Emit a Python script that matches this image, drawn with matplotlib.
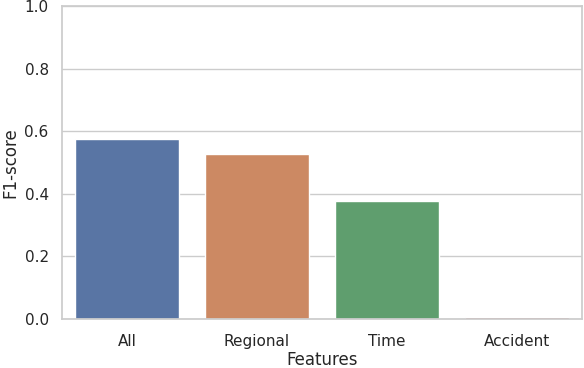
import numpy as np
import matplotlib
matplotlib.use("Agg")
import matplotlib.pyplot as plt
import seaborn as sns

features = ["All", "Regional", "Time", "Accident"]
f1_scores = [0.575, 0.527, 0.377, 0.007]

sns.set_theme(style="whitegrid")
plt.rcParams['font.family'] = ['DejaVu Sans']

fig, ax = plt.subplots(figsize=(5.84, 3.68), dpi=100)
sns.barplot(x=features, y=f1_scores, hue=features, palette="deep",
            legend=False, ax=ax)
ax.set_ylim(0, 1.0)
ax.tick_params(axis='x', pad=4.5)
ax.set_xlabel("Features", labelpad=2)
ax.set_ylabel("F1-score", labelpad=4)

fig.subplots_adjust(left=0.106, right=0.996, top=0.984, bottom=0.133)
fig.savefig("out.png", dpi=100)
